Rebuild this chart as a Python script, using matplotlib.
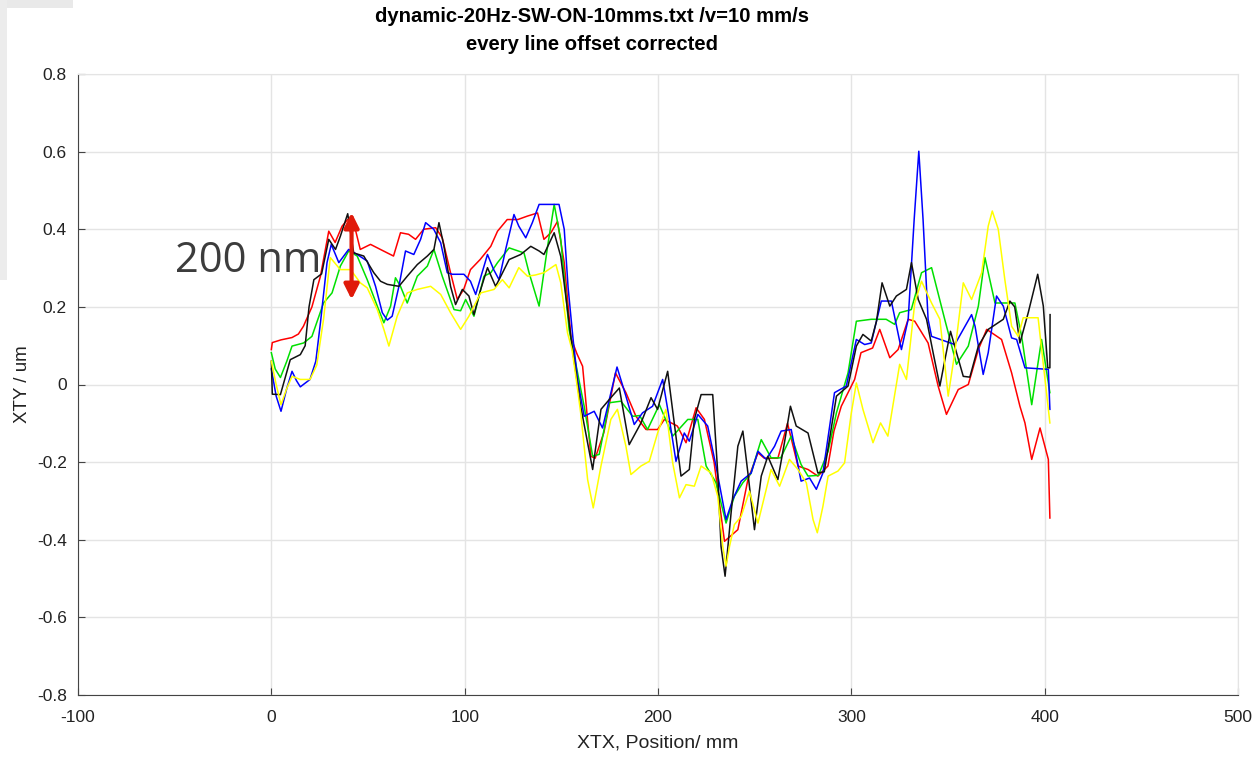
import matplotlib
matplotlib.use("Agg")
import matplotlib.pyplot as plt
from matplotlib.patches import Rectangle
from matplotlib.ticker import FuncFormatter

# profile traces, position in mm / height in um
red_x = [0, 0.5, 5, 10.7, 14, 16.6, 21, 25.4, 29.7, 33, 36.6, 39.5, 42.6, 46, 51.3, 58, 63.2, 66.8, 71, 74.6,
         78.8, 85, 88.4, 92.7, 96.2, 99.5, 103, 108, 113.5, 117, 122, 127.5, 132.5, 137.7, 141, 144.6, 148, 151.5,
         155, 158, 161, 165.3, 167.5, 172, 178, 183.4, 188.6, 193.8, 199.8, 203.3, 210, 214.5, 219.7, 224, 229,
         234.4, 241.3, 246.5, 251.7, 255, 262, 267, 272.4, 277.6, 282.7, 287.9, 291, 294.8, 301.7, 305, 311,
         314.7, 319.9, 324.2, 329.4, 332.8, 339.7, 344.9, 349.2, 355.3, 360.5, 365.7, 370, 377.7, 382.9, 387.2,
         389.8, 393.3, 397.6, 401.9, 402.7]
red_y = [0.09, 0.108, 0.115, 0.121, 0.13, 0.15, 0.20, 0.279, 0.395, 0.366, 0.408, 0.425, 0.417, 0.348, 0.361,
         0.344, 0.331, 0.391, 0.387, 0.374, 0.40, 0.404, 0.378, 0.288, 0.219, 0.245, 0.296, 0.322, 0.356, 0.395,
         0.425, 0.425, 0.434, 0.442, 0.374, 0.391, 0.42, 0.314, 0.12, 0.08, 0.047, -0.185, -0.19, -0.124, 0.03,
         -0.021, -0.082, -0.116, -0.116, -0.09, -0.107, -0.15, -0.06, -0.09, -0.2, -0.404, -0.374, -0.245,
         -0.176, -0.19, -0.19, -0.1, -0.21, -0.219, -0.236, -0.21, -0.12, -0.056, 0.013, 0.082, 0.094, 0.142,
         0.069, 0.09, 0.168, 0.163, 0.107, -0.004, -0.077, -0.013, 0.0, 0.09, 0.142, 0.116, 0.03, -0.056,
         -0.099, -0.193, -0.112, -0.193, -0.344]

green_x = [0, 2, 4.7, 8, 10.7, 16.7, 21, 27, 31.4, 35.7, 40, 44.4, 49.6, 54.8, 58.2, 61.7, 64.2, 66.8, 70.3,
           75.5, 80.7, 84.1, 88.4, 94.5, 97.9, 100.5, 104.8, 110, 113.5, 117, 123, 130.7, 133.3, 138.5, 142.9,
           146.3, 149.7, 154, 158.4, 161.8, 166.2, 169.6, 174.8, 180.8, 186.9, 190.5, 194.6, 200.7, 207.6,
           215.4, 220.6, 224.9, 230, 235.2, 239.5, 243.9, 248, 253.4, 258.5, 263.5, 268.9, 274, 277.6, 283, 288,
           292.3, 298.3, 302.6, 310.3, 318, 322.4, 325, 331, 336.3, 341.5, 348.3, 354.4, 360.5, 365.7, 369.1,
           374.3, 384.6, 388.1, 393.3, 398.4, 402.7]
green_y = [0.082, 0.04, 0.018, 0.06, 0.099, 0.107, 0.124, 0.21, 0.236, 0.305, 0.344, 0.331, 0.27, 0.202, 0.159,
           0.202, 0.275, 0.253, 0.21, 0.279, 0.305, 0.348, 0.279, 0.193, 0.19, 0.219, 0.176, 0.279, 0.288, 0.314,
           0.352, 0.339, 0.288, 0.202, 0.356, 0.464, 0.374, 0.142, 0.03, -0.056, -0.185, -0.18, -0.047, -0.043,
           -0.082, -0.08, -0.116, -0.052, -0.133, -0.09, -0.09, -0.21, -0.253, -0.357, -0.288, -0.253, -0.23,
           -0.142, -0.189, -0.189, -0.133, -0.206, -0.236, -0.234, -0.172, -0.073, 0.03, 0.163, 0.168, 0.168,
           0.155, 0.185, 0.193, 0.288, 0.301, 0.168, 0.052, 0.099, 0.202, 0.327, 0.21, 0.21, 0.124, -0.052,
           0.116, -0.021]

blue_x = [0, 2.5, 5, 8, 10.7, 13, 15, 20, 23, 25.4, 28.8, 31, 34.9, 40, 44.4, 49.6, 53.9, 57.4, 60, 62.5, 66,
          69.4, 73.7, 77.2, 79.8, 84, 87.6, 91, 93.6, 99.6, 103, 105.7, 109, 111.8, 115, 117.8, 121.2, 125.5,
          128, 131.6, 135, 138.5, 148.8, 151.5, 153.5, 156, 158.4, 161.8, 167, 171.3, 174.8, 178.8, 183.4,
          187.7, 192, 197.2, 202.4, 205.9, 209.3, 213.6, 216.2, 220.6, 225.7, 230, 235.2, 238.7, 243, 248.2,
          251.7, 256, 260.3, 263.7, 268.9, 274, 278.4, 281.9, 285.3, 291.3, 297.4, 302.6, 306.9, 310.3, 315.5,
          320.7, 325.9, 329.4, 332.5, 334.9, 337.1, 339.7, 341.5, 353.5, 358.8, 362.2, 364, 368.2, 370.8,
          375.1, 378.6, 382.9, 385.5, 389.8, 401.9, 402.7]
blue_y = [0.04, -0.03, -0.069, -0.01, 0.034, 0.01, -0.006, 0.013, 0.06, 0.159, 0.314, 0.361, 0.314, 0.348,
          0.335, 0.318, 0.253, 0.185, 0.166, 0.176, 0.253, 0.344, 0.335, 0.374, 0.417, 0.4, 0.365, 0.288, 0.284,
          0.284, 0.266, 0.232, 0.288, 0.335, 0.296, 0.27, 0.348, 0.438, 0.408, 0.378, 0.417, 0.464, 0.464, 0.4,
          0.25, 0.12, 0.013, -0.082, -0.069, -0.112, -0.039, 0.045, -0.03, -0.103, -0.073, -0.056, 0.013,
          -0.09, -0.198, -0.125, -0.146, -0.077, -0.107, -0.21, -0.348, -0.296, -0.249, -0.228, -0.172, -0.193,
          -0.159, -0.12, -0.116, -0.249, -0.241, -0.27, -0.228, -0.021, -0.004, 0.116, 0.103, 0.107, 0.215,
          0.215, 0.09, 0.168, 0.425, 0.601, 0.425, 0.168, 0.124, 0.103, 0.15, 0.18, 0.15, 0.026, 0.082, 0.228,
          0.202, 0.12, 0.116, 0.043, 0.039, -0.064]

black_x = [0, 0.5, 4.7, 9.8, 15, 17.5, 19.5, 22, 26, 29.7, 33.2, 35.7, 39.5, 42.6, 47.8, 53, 56.5, 60, 66, 70.3,
           75.5, 80.7, 84.1, 86.7, 89.3, 92.7, 95.3, 98.8, 102.2, 104.8, 108.3, 111.8, 116, 118.7, 123, 129,
           134.2, 138.5, 141, 146.3, 149.7, 153, 155.5, 160, 166.2, 170.5, 175.6, 180, 185.1, 191.2, 196.4,
           199.8, 205, 208.4, 211.9, 216.2, 218.8, 222.3, 228.3, 230.9, 232.6, 234.7, 237.8, 241.3, 243.9,
           246.5, 249.9, 253.4, 256.8, 262, 265.4, 268.5, 271.5, 277.6, 282.7, 286, 292.3, 298.3, 302.6, 306,
           310.3, 313, 315.9, 319.9, 323.3, 328.5, 331.1, 334.6, 338.9, 342.3, 345.8, 348.4, 351.3, 354.4,
           357.9, 361.3, 365.7, 370.8, 378.6, 382, 384.5, 387.2, 391.5, 396.4, 399.3, 401.6, 402.7, 402.8]
black_y = [0.06, -0.025, -0.026, 0.064, 0.077, 0.1, 0.2, 0.27, 0.285, 0.374, 0.348, 0.382, 0.44, 0.339, 0.331,
           0.288, 0.266, 0.258, 0.253, 0.279, 0.309, 0.331, 0.348, 0.417, 0.356, 0.253, 0.206, 0.245, 0.228,
           0.18, 0.245, 0.301, 0.253, 0.279, 0.322, 0.335, 0.356, 0.344, 0.335, 0.391, 0.33, 0.2, 0.1, -0.056,
           -0.219, -0.064, -0.034, -0.009, -0.155, -0.099, -0.034, -0.064, 0.034, -0.099, -0.236, -0.219, -0.09,
           -0.026, -0.026, -0.228, -0.417, -0.494, -0.331, -0.159, -0.12, -0.228, -0.374, -0.236, -0.185,
           -0.245, -0.15, -0.056, -0.107, -0.125, -0.228, -0.225, -0.03, -0.004, 0.099, 0.129, 0.112, 0.163,
           0.262, 0.202, 0.228, 0.245, 0.314, 0.219, 0.168, 0.082, -0.004, 0.064, 0.137, 0.082, 0.021, 0.019,
           0.099, 0.142, 0.168, 0.215, 0.2, 0.107, 0.185, 0.284, 0.202, 0.043, 0.043, 0.18]

yellow_x = [0, 2.5, 5, 8, 10.7, 15, 20, 23.5, 27, 30.5, 35.7, 41, 46, 49.6, 54.8, 58.2, 60.8, 65.1, 70.3, 75.5,
            82.4, 87.6, 92.7, 97.9, 102.2, 108.3, 115.2, 119.5, 123, 128, 132.5, 136.5, 141, 147.2, 149.7,
            153.2, 155.5, 157.5, 160, 163.6, 166.5, 170.5, 175.6, 179, 183.4, 186, 191.2, 195.5, 199.8, 204.1,
            207.6, 211.1, 214.5, 218.8, 222.3, 227.5, 230.9, 233.5, 235.2, 237, 239.5, 243, 247.3, 251.7, 255.1,
            258.5, 262.9, 268, 272.4, 276.7, 280.2, 282.4, 285.3, 288, 293.1, 296.5, 300, 302.6, 306, 311.2,
            315.1, 318.9, 325, 328.5, 332.8, 336.3, 341.5, 345.8, 350.1, 353.5, 357.9, 362.2, 367.4, 370.8,
            372.9, 376, 379.4, 382.9, 386.3, 388.9, 396.6, 402.7]
yellow_y = [0.06, 0.0, -0.052, -0.01, 0.021, 0.013, 0.013, 0.05, 0.168, 0.327, 0.296, 0.296, 0.262, 0.249,
            0.193, 0.142, 0.099, 0.176, 0.236, 0.245, 0.253, 0.232, 0.185, 0.142, 0.176, 0.236, 0.245, 0.27,
            0.249, 0.301, 0.279, 0.282, 0.288, 0.309, 0.262, 0.133, 0.09, 0.021, -0.073, -0.245, -0.318, -0.21,
            -0.09, -0.064, -0.159, -0.232, -0.21, -0.198, -0.125, -0.064, -0.202, -0.292, -0.258, -0.262, -0.21,
            -0.228, -0.288, -0.417, -0.468, -0.417, -0.361, -0.34, -0.275, -0.357, -0.288, -0.219, -0.262,
            -0.193, -0.219, -0.253, -0.348, -0.382, -0.314, -0.236, -0.223, -0.202, -0.073, 0.004, -0.064,
            -0.15, -0.099, -0.133, 0.052, 0.013, 0.21, 0.266, 0.21, 0.168, -0.03, 0.082, 0.262, 0.219, 0.288,
            0.408, 0.447, 0.4, 0.27, 0.15, 0.124, 0.172, 0.172, -0.099]

x_ticks = [-100, 0, 100, 200, 300, 400, 500]
y_ticks = [-0.8, -0.6, -0.4, -0.2, 0, 0.2, 0.4, 0.6, 0.8]

# marked step height
step_x = 41.5
step_bottom = 0.219
step_top = 0.443

plt.rcParams['font.family'] = ['Liberation Sans', 'DejaVu Sans']
plt.rcParams['axes.unicode_minus'] = False

fig = plt.figure(figsize=(12.56, 7.57), dpi=100)
ax = fig.add_axes([78 / 1256, 62 / 757, 1160 / 1256, 621 / 757])

ax.plot(red_x, red_y, color='#ff0000', lw=1.1)
ax.plot(green_x, green_y, color='#00e000', lw=1.1)
ax.plot(blue_x, blue_y, color='#0000ff', lw=1.1)
ax.plot(black_x, black_y, color='#111111', lw=1.1)
ax.plot(yellow_x, yellow_y, color='#ffff00', lw=1.1)

ax.set_xlim(-100, 500)
ax.set_ylim(-0.8, 0.8)
ax.set_xticks(x_ticks)
ax.set_yticks(y_ticks)
ax.yaxis.set_major_formatter(FuncFormatter(lambda v, p: f"{v:g}"))
ax.grid(True, color='#e4e4e4', lw=1)
ax.set_axisbelow(True)
for s in ['top', 'right']:
    ax.spines[s].set_color('#e4e4e4')
for s in ['left', 'bottom']:
    ax.spines[s].set_color('#444444')
ax.tick_params(direction='in', length=5, color='#444444', labelsize=12.5, labelcolor='#222222')
ax.tick_params(axis='x', pad=11)
ax.tick_params(axis='y', pad=8)

ax.set_xlabel('XTX, Position/ mm', fontsize=14, color='#222222', labelpad=7)
ax.set_ylabel('XTY / um', fontsize=13.5, color='#222222', labelpad=4)

fig.text(592 / 1256, 1 - 17 / 757, 'dynamic-20Hz-SW-ON-10mms.txt /v=10 mm/s', ha='center', va='center',
         fontsize=14.6, fontweight='bold')
fig.text(592 / 1256, 1 - 44 / 757, 'every line offset corrected', ha='center', va='center',
         fontsize=14.6, fontweight='bold')

ax.annotate('', xy=(step_x, step_top), xytext=(step_x, step_bottom),
            arrowprops=dict(arrowstyle='<|-|>', color='#e01a0a', lw=3, mutation_scale=22,
                            shrinkA=0, shrinkB=0))
ax.text(-50, 0.318, '200 nm', fontsize=30, color='#3c3c3c', ha='left', va='center',
        family=['Open Sans', 'DejaVu Sans'])

# grey margin in the top-left corner
fig.add_artist(Rectangle((0, 1 - 8 / 757), 73 / 1256, 8 / 757, transform=fig.transFigure,
                         color='#e9e9e9', lw=0))
fig.add_artist(Rectangle((0, 1 - 280 / 757), 7 / 1256, 280 / 757, transform=fig.transFigure,
                         color='#ececec', lw=0))

fig.savefig('out.png', dpi=100)
